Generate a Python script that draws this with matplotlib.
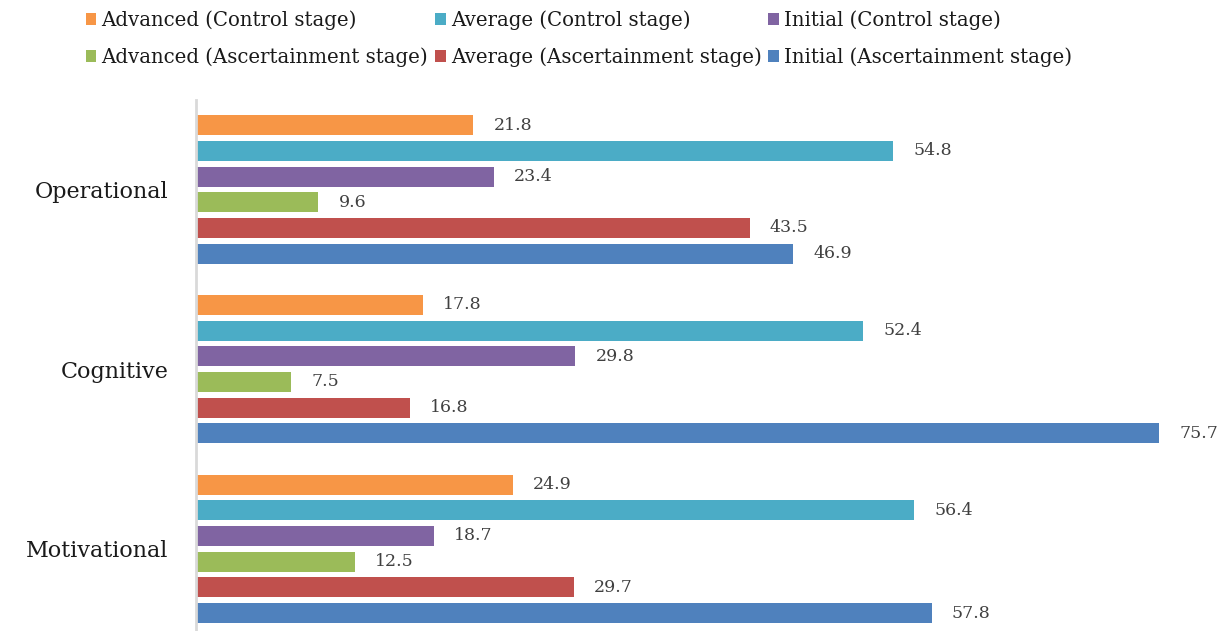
import matplotlib
matplotlib.use("Agg")
import matplotlib.pyplot as plt
import numpy as np

categories = ["Operational", "Cognitive", "Motivational"]
series = [
    "Advanced (Control stage)",
    "Average (Control stage)",
    "Initial (Control stage)",
    "Advanced (Ascertainment stage)",
    "Average (Ascertainment stage)",
    "Initial (Ascertainment stage)",
]
advanced_control = [21.8, 17.8, 24.9]
average_control = [54.8, 52.4, 56.4]
initial_control = [23.4, 29.8, 18.7]
advanced_ascert = [9.6, 7.5, 12.5]
average_ascert = [43.5, 16.8, 29.7]
initial_ascert = [46.9, 75.7, 57.8]
colors = ["#F79646", "#4BACC6", "#8064A2", "#9BBB59", "#C0504D", "#4F81BD"]

values = [advanced_control, average_control, initial_control,
          advanced_ascert, average_ascert, initial_ascert]

fig = plt.figure(figsize=(12.32, 6.31), dpi=100)
ax = fig.add_axes([196 / 1232, 0.0, 1018 / 1232, 1 - 100 / 631])

group_pitch = 7.0
centers = np.arange(len(categories)) * group_pitch
handles = []
for k, (name, vals, col) in enumerate(zip(series, values, colors)):
    y = centers + (k - 2.5)
    bars = ax.barh(y, vals, height=0.78, color=col, label=name)
    handles.append(bars)
    for b, v in zip(bars, vals):
        ax.text(b.get_width() + 1.6, b.get_y() + b.get_height() / 2, f"{v}",
                va="center", ha="left", fontsize=12.5, color="#404040",
                family="DejaVu Serif")

ax.set_xlim(0, 80)
ax.set_ylim(centers[-1] + 3.2, -3.48)
ax.set_yticks(centers)
ax.set_yticklabels(categories, fontsize=16, family="DejaVu Serif",
                   color="#1a1a1a")
ax.tick_params(axis="y", length=0, pad=20)
ax.set_xticks([])
for s in ["top", "right", "bottom"]:
    ax.spines[s].set_visible(False)
ax.spines["left"].set_color("#D9D9D9")
ax.spines["left"].set_linewidth(2)

# legend filled row by row
order = [0, 3, 1, 4, 2, 5]
leg = fig.legend([handles[i] for i in order], [series[i] for i in order],
                 loc="upper left", bbox_to_anchor=(0.055, 1.012), ncol=3,
                 frameon=False, prop={"family": "DejaVu Serif", "size": 14.2},
                 handlelength=0.55, handleheight=0.55, handletextpad=0.25,
                 columnspacing=0.35, labelspacing=0.9)
for t in leg.get_texts():
    t.set_color("#1a1a1a")

fig.savefig("out.png", dpi=100)
